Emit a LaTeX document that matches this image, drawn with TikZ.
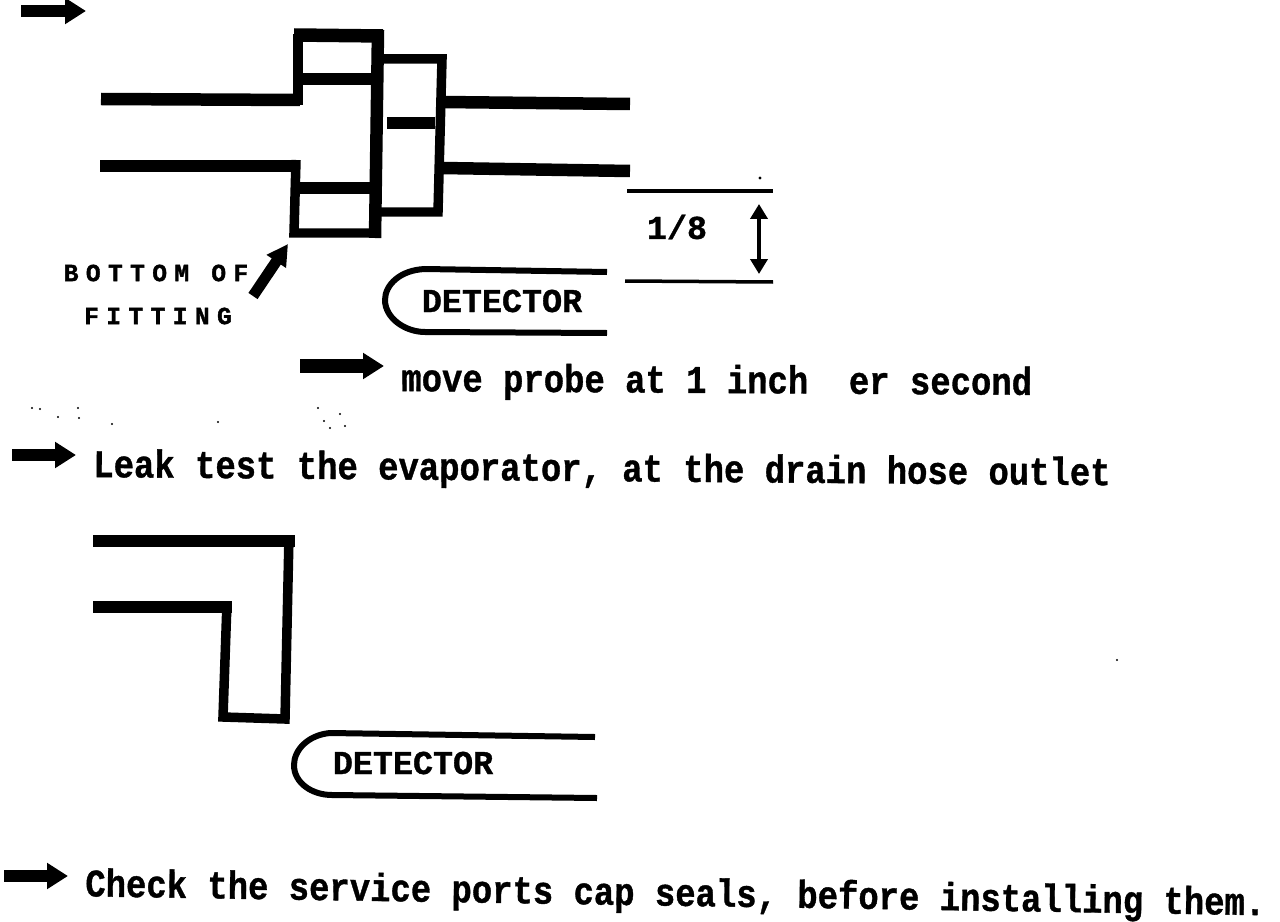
\documentclass[tikz,border=0pt]{standalone}
\usepackage{fontspec}
\setmonofont[BoldFeatures={FakeBold=1}]{Liberation Mono}
\newfontfamily\fittingfont[LetterSpace=30,BoldFeatures={FakeBold=1.5}]{Liberation Mono}
\usetikzlibrary{arrows.meta}
\tikzset{
  wall/.style={line width=0.25cm,line join=miter},
  thinwall/.style={line width=0.19cm,line join=miter},
  probe/.style={line width=0.12cm},
  pointer/.style={line width=0.24cm,-{Triangle[length=0.42cm,width=0.5cm]}},
  dimline/.style={line width=0.07cm},
  remark/.style={font=\ttfamily\bfseries\fontsize{19.3}{22}\selectfont,inner sep=0pt,yscale=1.15},
  tag/.style={font=\ttfamily\bfseries\fontsize{19}{22}\selectfont,inner sep=0pt},
  small tag/.style={font=\fittingfont\bfseries\fontsize{14}{16}\selectfont,inner sep=0pt},
}
\begin{document}
\begin{tikzpicture}[x=0.02cm,y=-0.02cm]
  \useasboundingbox (0,0) rectangle (1280,922);
  % fitting
  \draw[wall] (101,99) -- (300,100);
  \draw[wall] (100,166) -- (300,166);
  \draw[thinwall] (298,105) -- (298,34);
  \draw[line width=0.27cm] (294,35) -- (383,36);
  \draw[wall] (298,79) -- (377,79);
  \draw[thinwall] (296,160) -- (294,233) -- (380,233);
  \draw[wall] (298,188) -- (375,188);
  \draw[wall] (378,30) -- (375,238);
  \draw[thinwall] (378,59) -- (442,59) -- (438,212) -- (372,212);
  \draw[wall] (387,123) -- (435,123);
  \draw[wall] (442,102) -- (630,104);
  \draw[wall] (442,168) -- (630,171);
  % dimension
  \draw[dimline] (627,191) -- (773,191);
  \draw[dimline] (625,281) -- (773,282);
  \fill (760,178) circle (1.6);
  \draw[line width=0.09cm,{Triangle[length=0.3cm,width=0.34cm]}-{Triangle[length=0.3cm,width=0.34cm]}] (759,204) -- (759,274);
  \node[tag] (gap) at (677,227) {1/8};
  % probes
  \draw[probe] (607,272) -- (425,269) .. controls (400,270) and (385,285) .. (385,300) .. controls (385,318) and (405,332) .. (425,332) -- (607,333);
  \node[tag] (det1) at (502,301) {DETECTOR};
  \draw[probe] (595,737) -- (330,733) .. controls (308,735) and (294,750) .. (294,765) .. controls (294,783) and (312,795) .. (332,795) -- (597,798);
  \node[tag] (det2) at (413,763) {DETECTOR};
  % elbow
  \draw[wall] (93,541) -- (295,541);
  \draw[wall] (93,607) -- (232,607);
  \draw[thinwall] (289,536) -- (285,719) -- (223,717) -- (227,602);
  % arrows
  \draw[pointer] (21,11) -- (86,11);
  \draw[pointer,line width=0.28cm] (300,366) -- (384,366);
  \draw[pointer] (12,455) -- (76,455);
  \draw[pointer] (4,876) -- (68,876);
  \draw[line width=0.22cm,-{Triangle[length=0.42cm,width=0.44cm]}] (253,296) -- (288,244);
  % labels
  \node[small tag] (bottom) at (156,273) {BOTTOM OF};
  \node[small tag] (fit) at (158,316) {FITTING};
  \node[remark,anchor=west,rotate=-0.3] (move) at (401,381) {move probe at 1 inch\ \ er second};
  \node[remark,anchor=west,rotate=-0.4] (leak) at (93,467) {Leak test the evaporator, at the drain hose outlet};
  \node[remark,anchor=west,rotate=-0.8] (check) at (85,886) {Check the service ports cap seals, before installing them.};
  % specks
  \foreach \sx/\sy in {32/408,40/409,58/417,78/408,79/418,112/424,218/422,318/408,324/421,330/428,340/414,345/426,1117/660}
    \fill (\sx,\sy) circle (1.2);
\end{tikzpicture}
\end{document}
